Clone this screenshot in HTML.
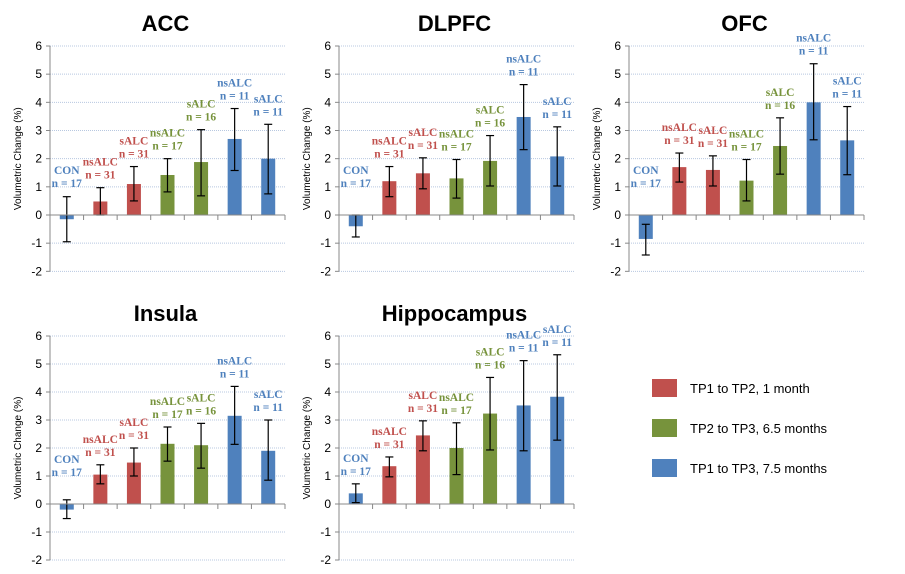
<!DOCTYPE html>
<html><head><meta charset="utf-8"><style>
body{margin:0;background:#fff;width:905px;height:574px;overflow:hidden}
svg{display:block}
</style></head><body>
<svg id="chart" width="905" height="574" xmlns="http://www.w3.org/2000/svg" font-family="Liberation Sans, sans-serif"></svg>
<script>
const panelTitles = ["ACC","DLPFC","OFC","Insula","Hippocampus"];
const groupNames = ["CON","nsALC","sALC","nsALC","sALC","nsALC","sALC"];
const groupN = ["n = 17","n = 31","n = 31","n = 17","n = 16","n = 11","n = 11"];
const groupSeries = [2,0,0,1,1,2,2];
const yTicks = [-2,-1,0,1,2,3,4,5,6];
const accVals = [-0.15,0.48,1.1,1.42,1.88,2.7,2.0];
const accLo = [-0.95,0,0.5,0.82,0.68,1.58,0.75];
const accHi = [0.65,0.97,1.72,2.0,3.03,3.78,3.22];
const dlpfcVals = [-0.4,1.2,1.48,1.3,1.92,3.48,2.08];
const dlpfcLo = [-0.78,0.65,0.93,0.6,1.03,2.32,1.03];
const dlpfcHi = [0,1.72,2.03,1.97,2.82,4.63,3.13];
const ofcVals = [-0.85,1.7,1.6,1.22,2.45,4.0,2.65];
const ofcLo = [-1.42,1.17,1.03,0.5,1.45,2.67,1.43];
const ofcHi = [-0.33,2.2,2.1,1.97,3.45,5.37,3.85];
const insulaVals = [-0.2,1.05,1.48,2.15,2.1,3.15,1.9];
const insulaLo = [-0.52,0.72,1.0,1.53,1.28,2.13,0.85];
const insulaHi = [0.15,1.4,2.0,2.75,2.88,4.2,3.0];
const hippoVals = [0.38,1.35,2.45,2.0,3.23,3.52,3.83];
const hippoLo = [0.05,0.97,1.9,1.05,1.93,1.9,2.28];
const hippoHi = [0.72,1.68,2.97,2.9,4.52,5.12,5.33];
const legendLabels = ["TP1 to TP2, 1 month","TP2 to TP3, 6.5 months","TP1 to TP3, 7.5 months"];
const colors = ["#c0504d","#77933c","#4f81bd"];

const panels = [
 {v:accVals,lo:accLo,hi:accHi,x0:50,y6:46,y0:215},
 {v:dlpfcVals,lo:dlpfcLo,hi:dlpfcHi,x0:339,y6:46,y0:215},
 {v:ofcVals,lo:ofcLo,hi:ofcHi,x0:629,y6:46,y0:215},
 {v:insulaVals,lo:insulaLo,hi:insulaHi,x0:50,y6:336,y0:504},
 {v:hippoVals,lo:hippoLo,hi:hippoHi,x0:339,y6:336,y0:504}
];
const svg = document.getElementById('chart');
const NS = "http://www.w3.org/2000/svg";
function mk(tag, attrs, parent, text){
  const e = document.createElementNS(NS, tag);
  for (const k in attrs) e.setAttribute(k, attrs[k]);
  if (text !== undefined) e.textContent = text;
  parent.appendChild(e); return e;
}
const W = 235;
panels.forEach((p, pi) => {
  const g = mk('g', {}, svg);
  
  
  const unit = (p.y0 - p.y6) / 6;
  const y = v => p.y0 - v * unit;
  const bw = W / 7;
  const xc = i => p.x0 + bw * (i + 0.5);
  const t = mk('text', {x: p.x0 + W/2 - 2, y: p.y6 - 15, 'text-anchor':'middle', 'font-size':22, 'font-weight':'bold', fill:'#000'}, g, panelTitles[pi]);
  
  
  yTicks.forEach(tv => {
    if (tv !== 0) {
      const gl = mk('line', {x1:p.x0, x2:p.x0+W, y1:y(tv), y2:y(tv), stroke:'#b8c8e0', 'stroke-width':1, 'stroke-dasharray':'1,1'}, g);
      
      
    }
    mk('line', {x1:p.x0-4, x2:p.x0, y1:y(tv), y2:y(tv), stroke:'#888'}, g);
    const tl = mk('text', {x:p.x0-8, y:y(tv)+4, 'text-anchor':'end', 'font-size':12, fill:'#000'}, g, String(tv));
    
    
  });
  const ya = mk('line', {x1:p.x0, x2:p.x0, y1:p.y6, y2:y(-2), stroke:'#888'}, g);
  
  
  const yt = mk('text', {x:0, y:0, transform:`translate(${p.x0-29},${(p.y6+y(-2))/2}) rotate(-90)`, 'text-anchor':'middle', 'font-size':10, fill:'#000'}, g, 'Volumetric Change (%)');
  
  
  p.v.forEach((v, i) => {
    const c = colors[groupSeries[i]];
    const b = mk('rect', {x:xc(i)-7, y:Math.min(y(v), p.y0), width:14, height:Math.abs(y(v)-p.y0), fill:c}, g);
    
    
    const e = mk('g', {stroke:'#000', 'stroke-width':1.2}, g);
    
    
    mk('line', {x1:xc(i), x2:xc(i), y1:y(p.lo[i]), y2:y(p.hi[i])}, e);
    mk('line', {x1:xc(i)-4, x2:xc(i)+4, y1:y(p.lo[i]), y2:y(p.lo[i])}, e);
    mk('line', {x1:xc(i)-4, x2:xc(i)+4, y1:y(p.hi[i]), y2:y(p.hi[i])}, e);
    let by = y(p.hi[i]) - 9;
    if (i === 0) by = Math.min(by, p.y0 - 28);
    const lt = mk('text', {x:xc(i), 'text-anchor':'middle', 'font-family':'Liberation Serif, serif', 'font-size':11.5, 'font-weight':'bold', fill:c}, g);
    
    
    mk('tspan', {x:xc(i), y:by-13}, lt, groupNames[i]);
    mk('tspan', {x:xc(i), y:by}, lt, groupN[i]);
  });
  const xa = mk('line', {x1:p.x0, x2:p.x0+W, y1:p.y0, y2:p.y0, stroke:'#888'}, g);
  
  
  for (let i = 1; i <= 7; i++) mk('line', {x1:p.x0+bw*i, x2:p.x0+bw*i, y1:p.y0, y2:p.y0+5, stroke:'#888'}, g);
});
const lg = mk('g', {}, svg);


legendLabels.forEach((l, i) => {
  const r = mk('rect', {x:652, y:379+i*40, width:25, height:18, fill:colors[i]}, lg);
  
  
  const t = mk('text', {x:690, y:393+i*40, 'font-size':13, fill:'#000'}, lg, l);
  
  
});
</script>
</body></html>
